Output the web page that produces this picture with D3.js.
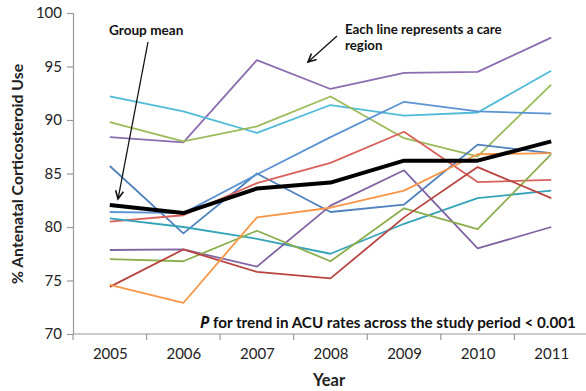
<!DOCTYPE html>
<html>
<head>
<meta charset="utf-8">
<script src="https://cdn.jsdelivr.net/npm/d3@7"></script>
<style>
  html, body { margin: 0; padding: 0; background: #fff; }
  svg { display: block; font-family: Lato, "Open Sans", "DejaVu Sans", sans-serif; }
</style>
</head>
<body>
<svg id="chart" width="586" height="391"></svg>
<script>
// Antenatal corticosteroid use (%) by year, one series per care region
const years = [2005, 2006, 2007, 2008, 2009, 2010, 2011];
const yTicks = [70, 75, 80, 85, 90, 95, 100];

const regionA = [88.4, 87.9, 95.6, 92.9, 94.4, 94.5, 97.7];
const regionB = [92.2, 90.8, 88.8, 91.4, 90.4, 90.7, 94.6];
const regionC = [89.8, 88.0, 89.4, 92.2, 88.3, 86.6, 93.3];
const regionD = [85.7, 79.4, 85.0, 81.4, 82.1, 87.7, 86.9];
const regionE = [81.4, 81.3, 84.9, 88.4, 91.7, 90.8, 90.6];
const regionF = [80.5, 81.1, 84.1, 86.0, 88.9, 84.2, 84.4];
const regionG = [80.8, 80.0, 78.9, 77.5, 80.3, 82.7, 83.4];
const regionH = [77.85, 77.9, 76.3, 82.0, 85.3, 78.0, 80.0];
const regionI = [77.0, 76.8, 79.65, 76.8, 81.75, 79.8, 86.8];
const regionJ = [74.4, 77.9, 75.8, 75.2, 80.9, 85.6, 82.7];
const regionK = [74.6, 72.9, 80.9, 81.8, 83.4, 86.8, 86.9];
const groupMean = [82.06, 81.3, 83.6, 84.15, 86.2, 86.2, 88.0];

const regions = [regionA, regionB, regionC, regionD, regionE, regionF,
                 regionG, regionH, regionI, regionJ, regionK];
const regionColors = ["#8b6db0", "#4fbbd8", "#9bbb59", "#4f81bd", "#5b93d3", "#d9605b",
                      "#35a3b8", "#8064a2", "#8cae4c", "#b8433f", "#f79646"];

const svg = d3.select("#chart");
const plotLeft = 73, plotRight = 588, plotTop = 13, plotBottom = 334;

const x = d3.scalePoint().domain(years).range([plotLeft, plotRight]).padding(0.5);
const y = d3.scaleLinear().domain([70, 100]).range([plotBottom, plotTop]);
const step = x.step();

const axisColor = "#9a9a9a";

// y axis
const yAxis = svg.append("g")
  .attr("transform", `translate(${plotLeft},0)`)
  .call(d3.axisLeft(y).tickValues(yTicks).tickSize(6).tickPadding(5));
yAxis.select(".domain").attr("stroke", axisColor).attr("stroke-width", 1.2);
yAxis.selectAll(".tick line").attr("stroke", axisColor).attr("stroke-width", 1.2);
yAxis.selectAll(".tick text").attr("font-size", 15).attr("fill", "#222")
  .attr("font-family", "Lato, 'Open Sans', sans-serif");

// x axis: labels at category centres, ticks between categories
const xAxis = svg.append("g")
  .attr("transform", `translate(0,${plotBottom})`)
  .call(d3.axisBottom(x).tickSize(0).tickPadding(14));
xAxis.select(".domain").remove();
xAxis.selectAll(".tick text").attr("font-size", 15).attr("fill", "#222")
  .attr("font-family", "Lato, 'Open Sans', sans-serif");
svg.append("line")
  .attr("x1", plotLeft).attr("x2", 586).attr("y1", plotBottom).attr("y2", plotBottom)
  .attr("stroke", axisColor).attr("stroke-width", 1.2);
svg.append("g").selectAll("line")
  .data(years)
  .join("line")
  .attr("x1", d => x(d) - step / 2).attr("x2", d => x(d) - step / 2)
  .attr("y1", plotBottom).attr("y2", plotBottom + 6)
  .attr("stroke", axisColor).attr("stroke-width", 1.2);

// axis titles
svg.append("text")
  .attr("x", 329).attr("y", 386)
  .attr("text-anchor", "middle")
  .attr("font-size", 16.5).attr("font-weight", "bold").attr("fill", "#222")
  .text("Year");
svg.append("text")
  .attr("transform", "translate(23,174) rotate(-90)")
  .attr("text-anchor", "middle")
  .attr("font-size", 15.8).attr("font-weight", "bold").attr("fill", "#222")
  .text("% Antenatal Corticosteroid Use");

// region lines
const line = d3.line()
  .x((d, i) => x(years[i]))
  .y(d => y(d));

svg.append("g").selectAll("path")
  .data(regions)
  .join("path")
  .attr("d", line)
  .attr("fill", "none")
  .attr("stroke", (d, i) => regionColors[i])
  .attr("stroke-width", 1.8)
  .attr("stroke-linejoin", "round");

// group mean
svg.append("path")
  .datum(groupMean)
  .attr("d", line)
  .attr("fill", "none")
  .attr("stroke", "#000")
  .attr("stroke-width", 4)
  .attr("stroke-linejoin", "round");

// annotations
function arrow(x1, y1, x2, y2) {
  const g = svg.append("g").attr("stroke", "#111").attr("fill", "none").attr("stroke-width", 1.3);
  g.append("line").attr("x1", x1).attr("y1", y1).attr("x2", x2).attr("y2", y2);
  const a = Math.atan2(y2 - y1, x2 - x1);
  const len = 9, spread = 0.45;
  const p1 = [x2 - len * Math.cos(a - spread), y2 - len * Math.sin(a - spread)];
  const p2 = [x2 - len * Math.cos(a + spread), y2 - len * Math.sin(a + spread)];
  g.append("path")
    .attr("d", `M${p1[0]},${p1[1]}L${x2},${y2}L${p2[0]},${p2[1]}`)
    .attr("stroke-width", 1.6);
}

svg.append("text")
  .attr("x", 109).attr("y", 35)
  .attr("font-size", 13.6).attr("font-weight", "bold").attr("fill", "#111")
  .text("Group mean");
arrow(148, 42, 118, 199);

const note = svg.append("text")
  .attr("font-size", 13.3).attr("font-weight", "bold").attr("fill", "#111");
note.append("tspan").attr("x", 345).attr("y", 34).text("Each line represents a care");
note.append("tspan").attr("x", 345).attr("y", 50).text("region");
arrow(337, 36, 308, 62);

const ptext = svg.append("text")
  .attr("x", 200).attr("y", 328)
  .attr("font-size", 15.2).attr("font-weight", "bold").attr("fill", "#111");
ptext.append("tspan").attr("font-style", "italic")
  .attr("font-family", "'Open Sans', 'DejaVu Sans', sans-serif").text("P");
ptext.append("tspan").text(" for trend in ACU rates across the study period < 0.001");
</script>
</body>
</html>
